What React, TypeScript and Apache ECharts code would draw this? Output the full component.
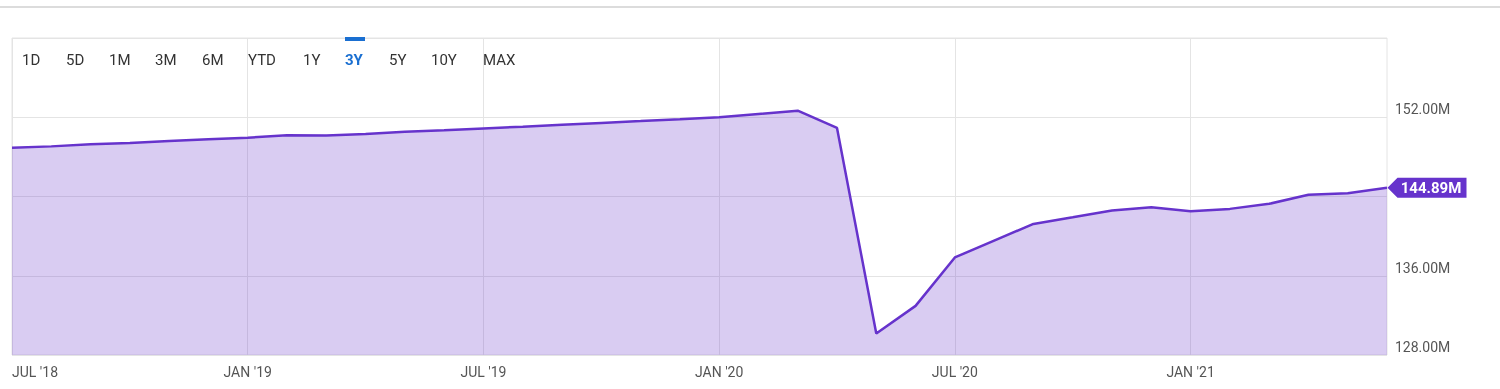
import React, { useEffect, useRef } from "react";
import * as echarts from "echarts";

const months: string[] = [
  "JUL '18", "AUG '18", "SEP '18", "OCT '18", "NOV '18", "DEC '18",
  "JAN '19", "FEB '19", "MAR '19", "APR '19", "MAY '19", "JUN '19",
  "JUL '19", "AUG '19", "SEP '19", "OCT '19", "NOV '19", "DEC '19",
  "JAN '20", "FEB '20", "MAR '20", "APR '20", "MAY '20", "JUN '20",
  "JUL '20", "AUG '20", "SEP '20", "OCT '20", "NOV '20", "DEC '20",
  "JAN '21", "FEB '21", "MAR '21", "APR '21", "MAY '21", "JUN '21",
];

const values: number[] = [
  148.93, 149.06, 149.27, 149.40, 149.60, 149.77,
  149.94, 150.18, 150.15, 150.31, 150.53, 150.68,
  150.87, 151.05, 151.24, 151.43, 151.61, 151.80,
  152.00, 152.33, 152.66, 150.92, 130.18, 132.96,
  137.85, 139.55, 141.23, 141.90, 142.58, 142.92,
  142.51, 142.75, 143.26, 144.17, 144.33, 144.89,
];

const yTicks: number[] = [128, 136, 144, 152, 160];
const hiddenYTicks: number[] = [144, 160];

const rangeButtons: string[] = ["1D", "5D", "1M", "3M", "6M", "YTD", "1Y", "3Y", "5Y", "10Y", "MAX"];
const buttonX: number[] = [22, 66, 109, 155, 202, 248, 303, 345, 389, 431, 483];
const activeButton = "3Y";

const LINE = "#6633cc";

export default function App() {
  const ref = useRef<HTMLDivElement>(null);

  useEffect(() => {
    if (!ref.current) return;
    const chart = echarts.init(ref.current, undefined, { renderer: "svg" });
    const last = values[values.length - 1];

    const graphics: any[] = [
      {
        type: "rect",
        shape: { x: 0, y: 6, width: 1500, height: 2 },
        style: { fill: "#dcdcdc" },
        silent: true,
      },
    ];
    rangeButtons.forEach((b, i) => {
      const active = b === activeButton;
      graphics.push({
        type: "text",
        x: buttonX[i],
        y: 60,
        style: {
          text: b,
          fill: active ? "#1a6fd1" : "#333333",
          font: `${active ? "bold " : ""}15px Roboto`,
          textVerticalAlign: "middle",
          verticalAlign: "middle",
        },
        z: 10,
      });
      if (active) {
        graphics.push({
          type: "rect",
          shape: { x: buttonX[i], y: 37, width: 20, height: 4 },
          style: { fill: "#1a6fd1" },
          z: 10,
        });
      }
    });

    chart.setOption({
      animation: false,
      textStyle: { fontFamily: "Roboto" },
      grid: {
        left: 12,
        top: 38,
        right: 113,
        bottom: 34,
        show: true,
        borderColor: "#e4e4e4",
        borderWidth: 1,
        backgroundColor: "transparent",
      },
      graphic: graphics,
      xAxis: {
        type: "category",
        data: months,
        boundaryGap: false,
        axisLine: { show: false },
        axisTick: { show: false },
        axisLabel: {
          interval: 5,
          color: "#555555",
          fontSize: 14,
          fontFamily: "Roboto",
          margin: 10,
          alignMinLabel: "left",
        },
        splitLine: {
          show: true,
          interval: 5,
          lineStyle: { color: "#e4e4e4", width: 1 },
        },
      },
      yAxis: {
        type: "value",
        position: "right",
        min: yTicks[0],
        max: yTicks[yTicks.length - 1],
        interval: yTicks[1] - yTicks[0],
        axisLine: { show: false },
        axisTick: { show: false },
        axisLabel: {
          color: "#555555",
          fontSize: 14,
          fontFamily: "Roboto",
          margin: 8,
          verticalAlign: "bottom",
          padding: [0, 0, 1, 0],
          formatter: (v: number) =>
            hiddenYTicks.includes(v) ? "" : v.toFixed(2) + "M",
        },
        splitLine: { show: true, lineStyle: { color: "#e4e4e4", width: 1 } },
      },
      series: [
        {
          type: "line",
          data: values,
          symbol: "none",
          lineStyle: { color: LINE, width: 2.5 },
          areaStyle: { color: "rgba(102,51,204,0.25)", opacity: 1, origin: "start" },
          markPoint: {
            silent: true,
            symbol: "path://M0,10 L10,0 L79,0 L79,20 L10,20 Z",
            symbolSize: [79, 20],
            symbolOffset: [40, 0],
            itemStyle: { color: LINE },
            label: {
              show: true,
              position: "inside",
              offset: [4, 0],
              color: "#ffffff",
              fontWeight: "bold",
              fontSize: 15,
              fontFamily: "Roboto",
              formatter: last.toFixed(2) + "M",
            },
            data: [{ coord: [values.length - 1, last] }],
          },
        },
      ],
    });

    return () => chart.dispose();
  }, []);

  return (
    <div
      ref={ref}
      style={{ position: "fixed", left: 0, top: 0, width: 1500, height: 389 }}
    />
  );
}
